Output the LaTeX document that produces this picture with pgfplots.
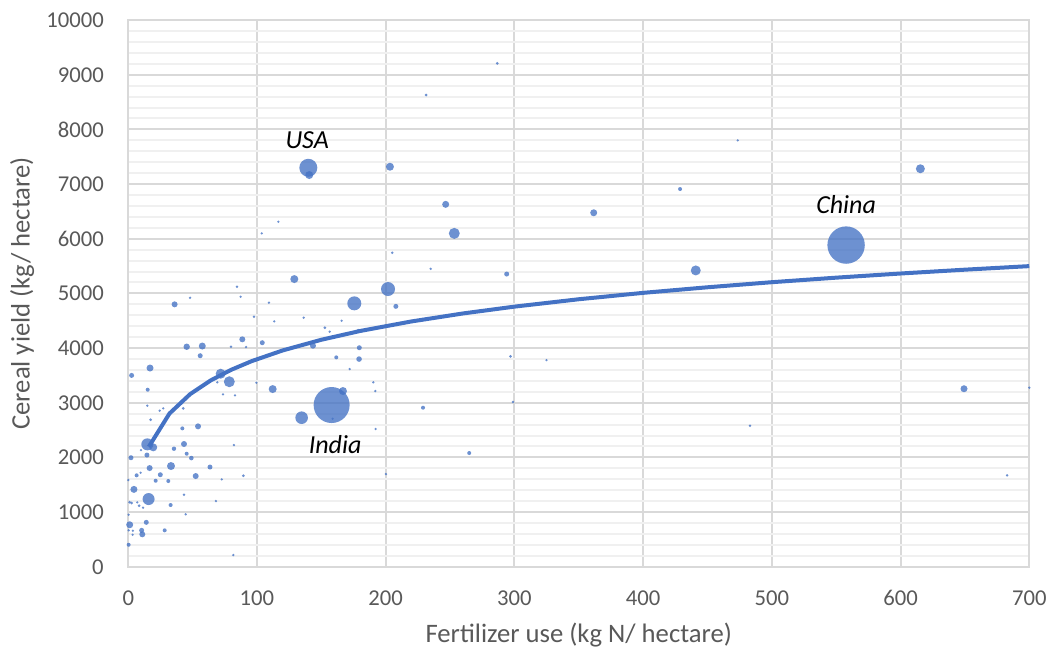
\documentclass[border=0pt]{standalone}
\usepackage{pgfplots}
\pgfplotsset{compat=1.18}
\usepackage{pgfplotstable}
\usepackage{fontspec}
\setmainfont{Carlito}
\definecolor{bub}{RGB}{68,114,196}
\definecolor{majg}{RGB}{217,217,217}
\definecolor{ming}{RGB}{240,240,240}
\definecolor{txt}{RGB}{89,89,89}
\pgfdeclareplotmark{fcirc}{\pgfpathcircle{\pgfpointorigin}{\pgfplotmarksize}\pgfusepathqfill}
\pgfplotstableread{
x y r
231.4 8628 1.5
139.9 7298 9
140.6 7165 4
203.3 7317 4
246.6 6629 3.5
116.6 6311 1
103.7 6099 1
253.3 6098 5.5
286.7 9208 1.5
235 5450 1
294 5354 2.5
361.6 6475 3.5
428.7 6909 2
473.5 7800 1
440.9 5420 5
615.4 7280 4.5
557.7 5884 18.7
649.3 3256 3.5
700 3275 1
483 2579 1
682.8 1672 1
205.1 5744 1
129 5262 4
201.8 5080 7
207.9 4763 2.5
175.6 4818 7
36 4800 3
84.5 5122 1.2
87.3 4939 0.8
48 4920 0.6
109.3 4830 1.2
97.7 4573 1
113.4 4488 1
136.3 4555 1
152.8 4372 1.5
156.5 4299 1
178.5 4330 1
88.6 4160 3
104.1 4098 2.5
45.4 4024 3.2
57.5 4037 3.5
79.8 4024 1.3
91.5 4019 1
143.5 4043 3
179.5 4006 2.5
55.9 3860 2.5
161.6 3830 2
179.3 3799 2.8
16.9 3635 3.5
2.6 3500 2.5
71.8 3531 5
78.5 3384 5.5
112.2 3250 4
99.5 3366 0.8
15.1 3238 2
73.6 3153 1
166.8 3214 4
158 2958 18
134.7 2726 6.3
190.4 3373 1
191.9 3214 0.8
229 2909 2
14.8 2946 0.8
27.2 2897 1
42.7 2897 1.5
17.4 2689 1.5
42 2531 2
54.2 2568 3
14.8 2239 6
19.4 2184 4
43.3 2245 3
35.5 2159 2.2
45.4 2067 2
49 1988 2.3
2.1 1994 2.5
14.5 2043 2.5
16.6 1805 3
33.2 1842 4
63.5 1824 2.5
24.9 1683 2.5
52.4 1659 3
89.4 1665 1.5
6.5 1672 2
21.3 1573 2
31.1 1568 2
72.6 1598 0.8
4.4 1415 3.5
15.8 1238 6
1.1 1180 1.5
2.6 1165 1.5
8.5 1116 1.5
32.9 1129 2
68.1 1202 0.8
43.3 1317 0.8
1.1 768 3.5
14 812 2.5
10.4 666 2.5
10.9 593 3
28.3 666 2
0.3 402 2
81.6 214 0.8
0.3 951 1
82.1 2226 0.8
11.5 1080 1
9.9 2133 1
0 1586 1
9.6 1720 1
24.4 2854 0.8
82.9 3135 0.8
69.2 3373 0.8
158.8 2707 1
172 3616 0.5
165.8 4500 0.5
44.6 958 0.5
3.6 659 1
0.3 666 1
3.4 585 1
7 1178 1
192.2 2519 0.5
296.9 3848 1.5
324.9 3780 0.5
298.9 3013 1
264.9 2080 2
200.2 1696 0.5
}\bubbles
\pgfplotstableread{
x y
16 2196
32 2802
48 3156
64 3408
80 3603
96 3762
120 3957
150 4152
180 4312
220 4487
260 4633
300 4758
350 4893
400 5010
450 5112
500 5205
550 5288
600 5364
650 5434
700 5499
}\trend
\begin{document}
\begin{tikzpicture}
\useasboundingbox (-96.2pt,-63.2pt) rectangle ++(789.75pt,488.25pt);
\begin{axis}[
 at={(0,0)}, anchor=south west,
 scale only axis, width=675.75pt, height=410pt,
 xmin=0, xmax=700, ymin=0, ymax=10000,
 xtick={0,100,...,700}, ytick={0,1000,...,10000},
 minor ytick={200,400,...,9800},
 xmajorgrids, ymajorgrids, yminorgrids,
 major grid style={draw=majg, line width=1.5pt},
 minor grid style={draw=ming, line width=1.5pt},
 axis line style={draw=majg, line width=1.5pt},
 tick style={draw=none},
 /pgf/number format/assume math mode=true,
 /pgf/number format/1000 sep={},
 scaled y ticks=false, scaled x ticks=false,
 ticklabel style={font=\fontsize{17}{20}\selectfont, text=txt, inner sep=0pt},
 xticklabel style={anchor=north, yshift=-17.5pt},
 yticklabel style={anchor=east, xshift=-18.2pt},
 xlabel={Fertilizer use (kg N/ hectare)},
 ylabel={Cereal yield (kg/ hectare)},
 label style={font=\fontsize{20}{24}\selectfont, text=txt},
 xlabel style={at={(axis description cs:0.5,-0.1249)}, anchor=center},
 ylabel style={at={(axis description cs:-0.1177,0.5)}, anchor=center},
 clip=false,
]
\addplot[scatter, only marks, mark=fcirc, point meta=\thisrow{r},
  scatter/use mapped color={fill=bub, fill opacity=0.78},
  visualization depends on={0.75*max(\thisrow{r},1.3) \as \rad},
  scatter/@pre marker code/.append style={/tikz/mark size=\rad}]
  table[x=x, y=y] {\bubbles};
\addplot[no marks, draw=bub, line width=3pt, line join=round] table[x=x, y=y] {\trend};
\node[font=\fontsize{19.5}{23}\selectfont\itshape] at (axis cs:139,7805) {USA};
\node[font=\fontsize{19.5}{23}\selectfont\itshape] at (axis cs:557.7,6616) {China};
\node[font=\fontsize{19.5}{23}\selectfont\itshape] at (axis cs:160.7,2226) {India};
\end{axis}
\end{tikzpicture}
\end{document}
